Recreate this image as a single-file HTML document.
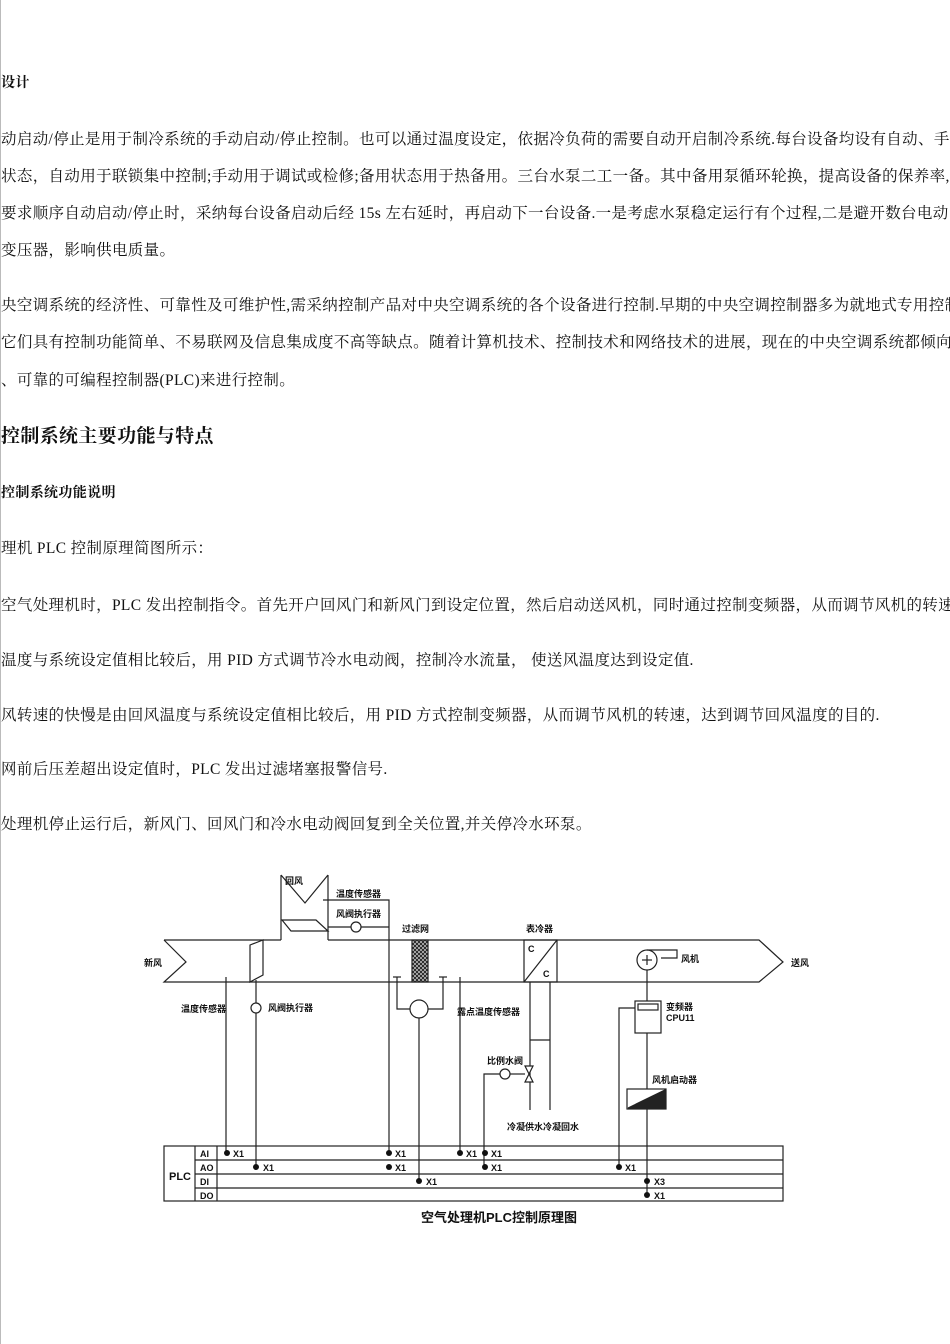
<!DOCTYPE html>
<html><head><meta charset="utf-8"><style>
html,body{margin:0;padding:0;background:#fff;}
body{width:950px;height:1344px;position:relative;overflow:hidden;border-left:1px solid #bbb;box-sizing:border-box;}
.t{position:absolute;left:0;white-space:nowrap;font-family:"Liberation Serif","Noto Serif CJK SC",serif;font-size:15.5px;color:#111;line-height:18px;letter-spacing:0.35px;}
.b{font-weight:bold;}
svg text{font-family:"Liberation Sans","Noto Sans CJK SC",sans-serif;font-weight:bold;fill:#111;}
</style></head><body>
<div class="t b" style="top:75px;font-size:14px">设计</div>
<div class="t" style="top:131px">动启动/停止是用于制冷系统的手动启动/停止控制。也可以通过温度设定，依据冷负荷的需要自动开启制冷系统.每台设备均设有自动、手</div>
<div class="t" style="top:168px">状态，自动用于联锁集中控制;手动用于调试或检修;备用状态用于热备用。三台水泵二工一备。其中备用泵循环轮换，提高设备的保养率,</div>
<div class="t" style="top:205px">要求顺序自动启动/停止时，采纳每台设备启动后经 15s 左右延时，再启动下一台设备.一是考虑水泵稳定运行有个过程,二是避开数台电动</div>
<div class="t" style="top:242px">变压器，影响供电质量。</div>
<div class="t" style="top:297px">央空调系统的经济性、可靠性及可维护性,需采纳控制产品对中央空调系统的各个设备进行控制.早期的中央空调控制器多为就地式专用控制</div>
<div class="t" style="top:334px">它们具有控制功能简单、不易联网及信息集成度不高等缺点。随着计算机技术、控制技术和网络技术的进展，现在的中央空调系统都倾向于</div>
<div class="t" style="top:372px">、可靠的可编程控制器(PLC)来进行控制。</div>
<div class="t b" style="top:426px;font-size:19px;line-height:22px">控制系统主要功能与特点</div>
<div class="t b" style="top:485px;font-size:14px">控制系统功能说明</div>
<div class="t" style="top:540px">理机 PLC 控制原理简图所示：</div>
<div class="t" style="top:597px">空气处理机时，PLC 发出控制指令。首先开户回风门和新风门到设定位置，然后启动送风机，同时通过控制变频器，从而调节风机的转速</div>
<div class="t" style="top:652px">温度与系统设定值相比较后，用 PID 方式调节冷水电动阀，控制冷水流量，  使送风温度达到设定值.</div>
<div class="t" style="top:707px">风转速的快慢是由回风温度与系统设定值相比较后，用 PID 方式控制变频器，从而调节风机的转速，达到调节回风温度的目的.</div>
<div class="t" style="top:761px">网前后压差超出设定值时，PLC 发出过滤堵塞报警信号.</div>
<div class="t" style="top:816px">处理机停止运行后，新风门、回风门和冷水电动阀回复到全关位置,并关停冷水环泵。</div>

<svg width="950" height="1344" style="position:absolute;left:0;top:0" xmlns="http://www.w3.org/2000/svg">
<defs><pattern id="hx" width="4" height="4" patternUnits="userSpaceOnUse"><rect width="4" height="4" fill="#ccc"/><path d="M0,0 L4,4 M4,0 L0,4" stroke="#222" stroke-width="1"/></pattern></defs>
<g stroke="#222" stroke-width="1.2" fill="none">
<polyline points="163,940 280,940"/>
<polyline points="327,940 758,940 782,962 758,982 163,982 185,962 163,940"/>
<polyline points="280,940 280,875"/>
<polyline points="327,940 327,875"/>
<polyline points="280,875 304,903 327,875"/>
<polygon points="281,920 315,920 327,931 290,931"/>
<polyline points="322,900 388,900 388,1153"/>
<polyline points="327,927 388,927"/>
<circle cx="355" cy="927" r="5" fill="#fff"/>
<rect x="411" y="940" width="16" height="42" fill="url(#hx)"/>
<polyline points="396,977 396,1009 409,1009"/>
<polyline points="442,977 442,1009 427,1009"/>
<line x1="392" y1="977" x2="400" y2="977"/><line x1="438" y1="977" x2="446" y2="977"/>
<circle cx="418" cy="1009" r="9" fill="#fff"/>
<line x1="418" y1="1018" x2="418" y2="1181"/>
<line x1="225" y1="977" x2="225" y2="1153"/>
<polygon points="249,945 262,940 262,975 249,982"/>
<line x1="255" y1="980" x2="255" y2="1167"/>
<circle cx="255" cy="1008" r="5" fill="#fff"/>
<line x1="459" y1="977" x2="459" y2="1153"/>
<rect x="523" y="940" width="33" height="42"/>
<line x1="523" y1="982" x2="556" y2="940"/>
<line x1="529" y1="982" x2="529" y2="1110"/>
<line x1="549" y1="982" x2="549" y2="1110"/>
<line x1="529" y1="1040" x2="549" y2="1040"/>
<polygon points="524,1066 532,1066 524,1082 532,1082" fill="#fff"/>
<polyline points="483,1167 483,1074 500,1074"/>
<line x1="509" y1="1074" x2="524" y2="1074"/>
<circle cx="504" cy="1074" r="5" fill="#fff"/>
<circle cx="646" cy="960" r="10"/>
<polyline points="646,950 676,950 676,958 660,958"/>
<line x1="641" y1="960" x2="651" y2="960"/><line x1="646" y1="955" x2="646" y2="965"/>
<line x1="646" y1="970" x2="646" y2="1195"/>
<rect x="634" y="1001" width="26" height="32" fill="#fff"/>
<rect x="637" y="1004" width="20" height="6"/>
<polyline points="634,1008 618,1008 618,1167"/>
<rect x="626" y="1089" width="39" height="20" fill="#fff"/>
<polygon points="627,1108 664,1090 664,1108" fill="#222"/>
<rect x="163" y="1146" width="619" height="55"/>
<line x1="194" y1="1146" x2="194" y2="1201"/>
<line x1="216" y1="1146" x2="216" y2="1201"/>
<line x1="194" y1="1160" x2="782" y2="1160"/>
<line x1="194" y1="1174" x2="782" y2="1174"/>
<line x1="194" y1="1188" x2="782" y2="1188"/>
</g>
<g fill="#111">
<circle cx="226" cy="1153" r="3"/><circle cx="388" cy="1153" r="3"/><circle cx="459" cy="1153" r="3"/><circle cx="484" cy="1153" r="3"/>
<circle cx="255" cy="1167" r="3"/><circle cx="388" cy="1167" r="3"/><circle cx="484" cy="1167" r="3"/><circle cx="618" cy="1167" r="3"/>
<circle cx="418" cy="1181" r="3"/><circle cx="646" cy="1181" r="3"/><circle cx="646" cy="1195" r="3"/>
</g>
<g font-size="9">
<text x="232" y="1157">X1</text><text x="394" y="1157">X1</text><text x="465" y="1157">X1</text><text x="490" y="1157">X1</text>
<text x="262" y="1171">X1</text><text x="394" y="1171">X1</text><text x="490" y="1171">X1</text><text x="624" y="1171">X1</text>
<text x="425" y="1185">X1</text><text x="653" y="1185">X3</text><text x="653" y="1199">X1</text>
<text x="199" y="1157">AI</text><text x="199" y="1171">AO</text><text x="199" y="1185">DI</text><text x="199" y="1199">DO</text>
<text x="168" y="1180" font-size="11" font-weight="normal">PLC</text>
<text x="527" y="952" font-size="9" font-weight="normal">C</text><text x="542" y="977" font-size="9" font-weight="normal">C</text>
<text x="284" y="884">回风</text>
<text x="335" y="897">温度传感器</text>
<text x="335" y="917">风阀执行器</text>
<text x="401" y="932">过滤网</text>
<text x="525" y="932">表冷器</text>
<text x="143" y="966">新风</text>
<text x="790" y="966">送风</text>
<text x="680" y="962">风机</text>
<text x="180" y="1012">温度传感器</text>
<text x="267" y="1011">风阀执行器</text>
<text x="456" y="1015">露点温度传感器</text>
<text x="665" y="1010">变频器</text><text x="665" y="1021">CPU11</text>
<text x="486" y="1064">比例水阀</text>
<text x="651" y="1083">风机启动器</text>
<text x="506" y="1130">冷凝供水冷凝回水</text>
<text x="420" y="1222" font-size="13">空气处理机PLC控制原理图</text>
</g>
</svg>
</body></html>
